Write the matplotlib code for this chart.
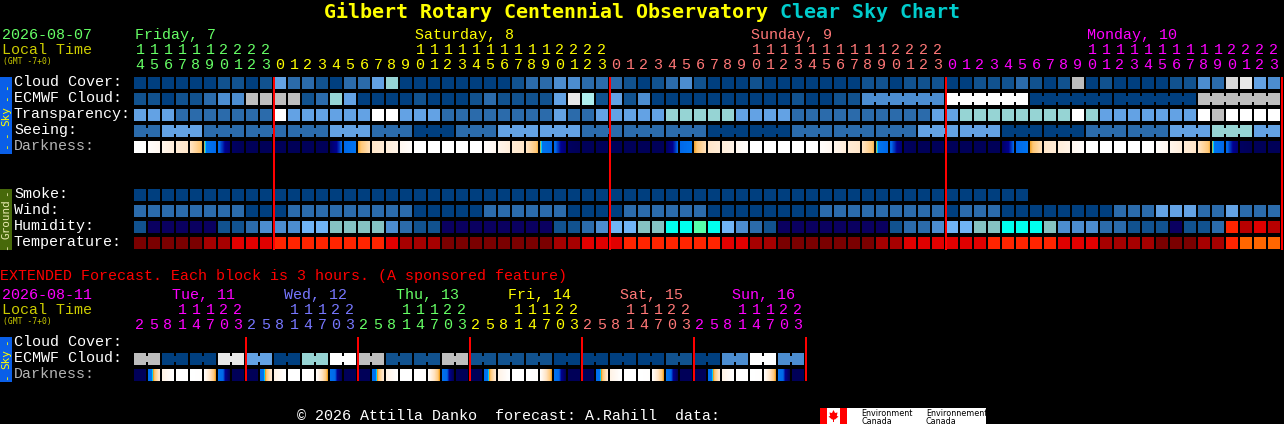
import numpy as np
import matplotlib
matplotlib.use("Agg")
import matplotlib.pyplot as plt
from matplotlib.colors import LinearSegmentedColormap
from matplotlib.patches import Polygon

# ---------- data: one letter per block ----------
cloud_cover = list("AAAAAABBAB" "ECCBACCEFAA" "AAAAAA" "BCCDDCC"
                   "CBABCDBAAAB" "AAAAAAA" "BBABBB"
                   "AABBBCBABG" "ABAAAABB" "DCHIED")
ecmwf_cloud = list("BBABBCDDGG" "GGBCFEAAAAB" "AAABCBBBBEIJB"
                   "EBD" "AAAAAAAAAA" "B" "AA" "BB" "DDDDDD"
                   "WWWWWW" "AAAAAA" "AAAAAA" "GGGGGG")
transparency = list("EEECCCCCCC" "WEEEEEEWWEE" "E" "CCCCCCCC" "ECCE"
                    "EEEE" "FFFFF" "EEEE" "CCCCCCCCCC" "E"
                    "E" "FFFFFFFF" "W" "F" "EEEEEEE" "W" "G" "WWWW")
seeing = list("CC" "EEE" "CCC" "CC"
              "C" "CCC" "EEE" "CCC" "AAA" "CCC" "EEE" "EEE" "CC"
              "C" "CCC" "CCC" "AAA" "AAA" "CCC" "CCC" "CCC" "EE"
              "E" "EEE" "AAA" "AAA" "CCC" "CCC" "EEE" "FFF" "EE")
smoke = list("AAAAAAAAAA" "AAAAAAAAAAAAAAAAAAAAAAAA"
             "AAAAAAAAAAAAAAAAAAAAAAAA" "AAAAAA")
wind = list("CCCCCCCCAA" "ACCCCCCCCCA" "AAAA" "CCCCCC" "AAA"
            "ACCCCCC" "AAAAAAAA" "CCC" "CCCCCC"
            "ACCC" "AAAAAAAA" "CCC" "EEE" "CC" "E" "CCC")
humidity = list("BNNNNNBBCD" "DDLLTTTTDCB" "BNNNNNNNNBBCD"
                "LLTTYYPYLDCB" "NNNNNN" "NNBCCD"
                "LLTTYYYTDDDCCBBBNBBCOhRh")
temperature = list("MMMMMKKRRR" "OOOOOOOORKK" "KMMMMMMMMKKRR"
                   "ROOOOOOORRKK" "MMMMMM" "MKKRRR"
                   "RRROOOOORRRKKKKMMMKKOQQQ")
dark_left = [0, .02, .08, .16, .22, .42, .70, .97, 1, 1,
             1, 1, 1, 1, .95, .70, .40, .20, .14, .06, 0, 0, 0, 0, 0, .02, .08, .16, .22, .42, .70, .97, 1, 1,
             1, 1, 1, 1, .95, .70, .40, .20, .14, .06, 0, 0, 0, 0, 0, .02, .08, .16, .22, .42, .70, .97, 1, 1,
             1, 1, 1, 1, .95, .70, .40, .20, .14, .06, 0, 0, 0, 0, 0, .02, .08, .16, .22, .42, .70, .97, 1, 1]
dark_right = [0, .06, .14, .20, .38, .70, .90, 1, 1, 1,
              1, 1, 1, 1, .72, .47, .24, .16, .10, .02, 0, 0, 0, 0, 0, .06, .14, .20, .38, .70, .90, 1, 1, 1,
              1, 1, 1, 1, .72, .47, .24, .16, .10, .02, 0, 0, 0, 0, 0, .06, .14, .20, .38, .70, .90, 1, 1, 1,
              1, 1, 1, 1, .72, .47, .24, .16, .10, .02, 0, 0, 0, 0, 0, .06, .14, .20, .38, .70, .90, 1, 1, 1]
hours_main = [14, 15, 16, 17, 18, 19, 20, 21, 22, 23] + list(range(24)) * 3
main_days = [("Friday, 7", 0), ("Saturday, 8", 20), ("Sunday, 9", 44), ("Monday, 10", 68)]

ext_ecmwf = list("GGAAAAII" "EEAAFFWW" "GGBBBBGG" "BBBBBBAA"
                 "AAAAAABB" "AADDWWDD")
ext_dark_left = [1, .60, .10, 0, 0, .02, .52, 1] * 6
ext_dark_right = [1, .18, 0, 0, .01, .41, 1, 1] * 6
ext_hours = [2, 5, 8, 11, 14, 17, 20, 23]
ext_days = ["Tue, 11", "Wed, 12", "Thu, 13", "Fri, 14", "Sat, 15", "Sun, 16"]

# ---------- styles ----------
palette = {"A": "#003f7f", "B": "#11528f", "C": "#2b6bab", "D": "#4c8dd0", "E": "#63a2e4",
           "F": "#96d4d4", "G": "#bebebe", "H": "#d9d9d9", "I": "#e8e8e8", "J": "#aeeeee",
           "W": "#ffffff", "N": "#0a0060", "L": "#70b4f5", "T": "#85c2c2", "Y": "#00ffee",
           "P": "#55ffaa", "O": "#ff2400", "Q": "#ff6600", "R": "#e00000", "K": "#a60000",
           "h": "#b80000", "M": "#7a0000"}
dark_cmap = LinearSegmentedColormap.from_list("dark", [
    (0.00, "#ffffff"), (0.10, "#fff3e6"), (0.22, "#ffe4c4"), (0.36, "#ffc878"), (0.41, "#f0a020"),
    (0.44, "#00e8ff"), (0.47, "#0074f0"), (0.72, "#0068e8"), (0.82, "#000090"), (1.00, "#000058")])

GREEN, YEL, SALMON, MAG, PERI = "#66ff66", "#ffff00", "#ff7777", "#ff00ff", "#7777ff"
DIM_YEL = "#cccc00"
MONO = "Liberation Mono"
PITCH, CELL, X0 = 14, 12, 134
PX = 0.72

plt.rcParams["font.family"] = [MONO, "DejaVu Sans Mono"]
fig = plt.figure(figsize=(12.84, 4.24), dpi=100, facecolor="black")
ax = fig.add_axes([0, 0, 1, 1], facecolor="black")
ax.set_xlim(0, 1284)
ax.set_ylim(424, 0)
ax.axis("off")


def txt(x, y, s, color="white", px=15, **kw):
    ax.text(x, y - 1, s, color=color, fontsize=px * PX, va="baseline", **kw)


def row(values, y, group=None):
    xs = X0 + PITCH * np.arange(len(values))
    ax.bar(xs, CELL, width=CELL, bottom=y, align="edge", linewidth=0,
           color=[palette[v] for v in values], zorder=2)
    if group is not None:
        for i in range(len(values) - 1):
            if group(i) is not None and group(i) == group(i + 1):
                ax.bar(xs[i] + CELL, 6, width=PITCH - CELL, bottom=y + 3, align="edge",
                       linewidth=0, color=palette[values[i]], zorder=2)


def dark_row(left, right, y):
    for i, (a, b) in enumerate(zip(left, right)):
        x = X0 + PITCH * i
        ax.imshow(np.linspace(a, b, CELL)[None, :], extent=(x, x + CELL, y + CELL, y),
                  cmap=dark_cmap, vmin=0, vmax=1, aspect="auto",
                  interpolation="nearest", zorder=2)


def sep(x, y0, y1):
    ax.bar(x - 1, y1 - y0, width=2, bottom=y0, align="edge", color="#ff0000", linewidth=0, zorder=3)


def gmt(y):
    txt(3, y, "(GMT -7+0)", DIM_YEL, 8, family="DejaVu Sans Mono")


# title
txt(324, 19, "Gilbert Rotary Centennial Observatory", YEL, 20,
    family="DejaVu Sans Mono", weight="bold")
txt(780, 19, "Clear Sky Chart", "#00cccc", 20, family="DejaVu Sans Mono", weight="bold")

# main header
txt(2, 40, "2026-08-07", GREEN)
txt(2, 55, "Local Time", DIM_YEL)
gmt(65)
day_colors = [GREEN, YEL, SALMON, MAG]
for (label, col), c in zip(main_days, day_colors):
    txt(X0 + PITCH * col + 1, 40, label, c)
day_idx = 0
for i, h in enumerate(hours_main):
    if i > 0 and h == 0:
        day_idx += 1
    c = day_colors[day_idx]
    x = X0 + PITCH * i + 6
    if h >= 10:
        txt(x, 55, str(h // 10), c, ha="center")
    txt(x, 70, str(h % 10), c, ha="center")

# main rows
labels = [("Cloud Cover:", 77, "white"), ("ECMWF Cloud:", 93, "white"),
          ("Transparency:", 109, "white"), ("Seeing:", 125, "white"),
          ("Darkness:", 141, "#b4b4b4"), ("Smoke:", 189, "white"), ("Wind:", 205, "white"),
          ("Humidity:", 221, "white"), ("Temperature:", 237, "white"),
          ("Cloud Cover:", 337, "white"), ("ECMWF Cloud:", 353, "white"),
          ("Darkness:", 369, "#b4b4b4")]
for s, y, c in labels:
    txt(14, y + 10, s, c)

row(cloud_cover, 77)
row(ecmwf_cloud, 93, group=lambda i: (i + 2) // 6 if i >= 52 else None)
row(transparency, 109)
row(seeing, 125, group=lambda i: (i + 1) // 3)
dark_row(dark_left, dark_right, 141)
row(smoke, 189)
row(wind, 205)
row(humidity, 221)
row(temperature, 237)

# day separators
for col in [10, 34, 58, 82]:
    sep(X0 + PITCH * col, 77, 250)

# side bars
ax.bar(0, 77, width=12, bottom=77, align="edge", color="#0a5fe8", linewidth=0)
ax.bar(0, 61, width=12, bottom=189, align="edge", color="#47690a", linewidth=0)
ax.bar(0, 45, width=12, bottom=337, align="edge", color="#0a5fe8", linewidth=0)


def side(y, s, c):
    ax.text(6, y, s, color=c, fontsize=11 * PX, rotation=90, ha="center", va="center",
            family="DejaVu Sans Mono")


for y in (87, 98, 135, 146):
    side(y, "-", YEL)
side(116, "Sky", YEL)
for y in (193, 247):
    side(y, "-", "#e8e8b0")
side(219, "Ground", "#e8e8b0")
for y in (342, 377):
    side(y, "-", YEL)
side(359, "Sky", YEL)

# extended section
txt(0, 281, "EXTENDED Forecast. Each block is 3 hours. (A sponsored feature)", "#ff0000")
txt(2, 300, "2026-08-11", MAG)
txt(2, 315, "Local Time", DIM_YEL)
gmt(325)
ext_colors = [MAG, PERI, GREEN, YEL, SALMON, MAG]
for d, (label, c) in enumerate(zip(ext_days, ext_colors)):
    txt(171.5 + 112 * d, 300, label, c)
    for j, h in enumerate(ext_hours):
        x = X0 + PITCH * (d * len(ext_hours) + j) + 6
        if h >= 10:
            txt(x, 315, str(h // 10), c, ha="center")
        txt(x, 330, str(h % 10), c, ha="center")

row(ext_ecmwf, 353, group=lambda i: i // 2)
dark_row(ext_dark_left, ext_dark_right, 369)
for d in range(1, 7):
    sep(X0 + PITCH * 8 * d, 337, 381)

# footer
txt(297, 421, "\u00a9 2026 Attilla Danko  forecast: A.Rahill  data:")
ax.bar(820, 16, width=166, bottom=408, align="edge", color="white", linewidth=0)
ax.bar(820, 16, width=7, bottom=408, align="edge", color="#ff0000", linewidth=0, zorder=2)
ax.bar(840, 16, width=7, bottom=408, align="edge", color="#ff0000", linewidth=0, zorder=2)
leaf = np.array([(833.5, 410), (835, 413), (837.5, 412.5), (836.8, 416), (838.5, 416.5), (835, 419.5),
                 (834, 419.5), (834, 422), (833, 422), (833, 419.5), (832, 419.5), (828.5, 416.5),
                 (830.2, 416), (829.5, 412.5), (832, 413)])
ax.add_patch(Polygon(leaf, closed=True, color="#ff0000", linewidth=0, zorder=3))
for x, s in [(861, "Environment"), (926, "Environnement")]:
    ax.text(x, 416, s, color="black", fontsize=8 * PX, family="DejaVu Sans", va="baseline", zorder=3)
    ax.text(x, 423.5, "Canada", color="black", fontsize=8 * PX, family="DejaVu Sans", va="baseline", zorder=3)

ax.set_xlim(0, 1284)
ax.set_ylim(424, 0)
fig.savefig("out.png", dpi=100, facecolor="black")
